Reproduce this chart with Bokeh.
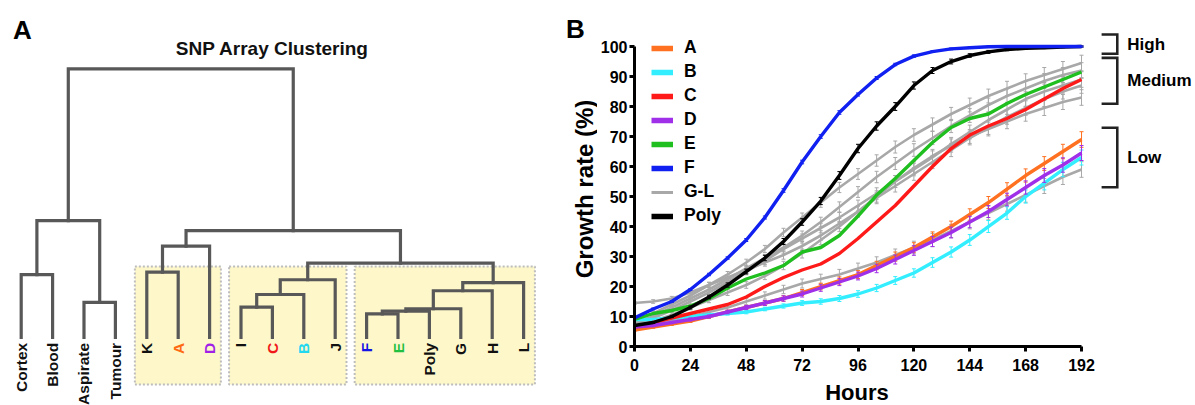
import math
from bokeh.plotting import figure
from bokeh.models import ColumnDataSource, Range1d, FixedTicker, Legend, LegendItem
from bokeh.layouts import row, column
from bokeh.embed import file_html
from bokeh.resources import INLINE
from bokeh.core.properties import value

FONT = "Liberation Sans"

# ---------------- Panel A data (dendrogram) ----------------
leaf_names = ["Cortex", "Blood", "Aspirate", "Tumour", "K", "A", "D", "I", "C", "B",
              "J", "F", "E", "Poly", "G", "H", "L"]
leaf_colors = ["#111111", "#111111", "#111111", "#111111", "#111111", "#FF6A13", "#A020E8",
               "#111111", "#F01818", "#22D8F0", "#111111", "#1414E6", "#22C040", "#111111",
               "#111111", "#111111", "#111111"]
# merges: (left child, right child, height); children are leaf names or "m<index>"
merge_left = ["Cortex", "Aspirate", "m0", "K", "m3", "I", "m5", "m6", "F", "m8", "m9", "m10", "m11", "m7", "m4", "m2"]
merge_right = ["Blood", "Tumour", "m1", "A", "D", "C", "B", "J", "E", "Poly", "G", "H", "L", "m12", "m13", "m14"]
merge_height = [23.4, 13.1, 43.5, 24.3, 34.0, 11.3, 16.0, 21.5, 8.8, 9.8, 10.7, 17.4, 20.4, 27.7, 39.8, 100.0]
box_first = ["K", "I", "F"]
box_last = ["D", "J", "L"]

# ---------------- Panel B data (growth curves) ----------------
hours = [0, 8, 16, 24, 32, 40, 48, 56, 64, 72, 80, 88, 96, 104, 112, 120, 128, 136, 144, 152, 160, 168, 176, 184, 192]
growth_A = [5.5, 6.5, 7.5, 8.5, 10, 11.5, 13, 14.5, 16, 18, 20, 22, 24, 27, 30, 33, 36.5, 40, 44, 48, 52.5, 57, 61, 65, 69]
growth_B = [9, 9, 9.5, 10, 10.5, 11, 11.5, 12.5, 13.5, 14.5, 15, 16, 17.5, 19.5, 22, 24.5, 28, 31.5, 35.5, 40, 44.5, 50, 54.5, 59, 63]
growth_C = [6.5, 8, 9.5, 11, 12.5, 14, 16.5, 20, 23, 25.5, 27.5, 31, 36, 41.5, 47, 53.5, 60, 66, 70.5, 73.5, 76, 79, 82.5, 86, 89]
growth_D = [6.5, 7, 8, 9, 10, 11.5, 13, 14.5, 16, 17.5, 19.5, 21.5, 23.5, 26, 29, 32, 35, 38, 41.5, 45, 49, 53, 57, 60.5, 64.5]
growth_E = [9, 11, 12, 13.5, 16, 19.5, 22.5, 24.5, 27, 31.5, 33, 37, 43.5, 50.5, 56, 62, 68, 73, 76, 77.5, 81, 84, 86.5, 89, 91.5]
growth_F = [9.5, 12.5, 15, 19, 24, 29.5, 35.5, 43, 52, 61.5, 70, 78, 84, 89.5, 94, 96.8, 98.3, 99.2, 99.6, 99.9, 100, 100, 100, 100, 100]
growth_Poly = [7, 8, 10, 13, 16.5, 20.5, 25, 29.5, 35, 41.5, 48.5, 57, 66, 73.5, 80, 87, 92, 95, 97, 98.2, 99, 99.4, 99.6, 99.8, 100]
gray_1 = [9, 11, 14, 17, 20.5, 24, 28, 32.5, 38, 43, 48, 53, 57.5, 62, 66.5, 70.5, 74, 77.5, 80.5, 83.5, 86, 88.5, 90.5, 92.5, 94.5]
gray_2 = [8, 10, 13, 16, 19, 22.5, 26, 29.5, 33, 37, 41.5, 46.5, 51.5, 56.5, 61, 65.5, 69.5, 73.5, 77, 80.5, 83.5, 86, 88.5, 90.5, 92]
gray_3 = [14.5, 15, 16, 18, 20.5, 23, 25.5, 28, 30.5, 33.5, 37, 41, 45, 49.5, 53.5, 57.5, 61.5, 65.5, 69.5, 73, 76.5, 79.5, 82.5, 85, 87]
gray_4 = [7, 8.5, 10.5, 13, 15.5, 18, 20.5, 23.5, 27, 31, 35.5, 40, 45, 50, 55, 59.5, 63.5, 67, 70, 72.5, 75, 77.5, 79.5, 81.5, 83]
gray_5 = [7.5, 9.5, 12, 15, 18, 21.5, 25, 28.5, 32.5, 36, 39.5, 43, 47, 51, 55, 59, 63, 67.5, 71.5, 75.5, 79, 82.5, 85, 87, 89]
gray_6 = [7, 7.5, 8.5, 10, 11.5, 13, 15, 17, 19, 21, 22.5, 24, 26, 28, 30.5, 33, 35.5, 38.5, 41.5, 44.5, 47.5, 50.5, 53.5, 56.5, 59]
err_A = [0.4, 0.4, 0.5, 0.5, 0.6, 0.6, 0.7, 0.8, 0.9, 1.0, 1.1, 1.2, 1.3, 1.4, 1.5, 1.6, 1.7, 1.8, 1.9, 2.0, 2.1, 2.2, 2.3, 2.4, 2.6]
err_B = [0.3, 0.3, 0.4, 0.4, 0.5, 0.5, 0.6, 0.6, 0.7, 0.8, 0.9, 1.0, 1.1, 1.2, 1.3, 1.4, 1.6, 1.7, 1.8, 2.0, 2.1, 2.2, 2.3, 2.4, 2.5]
err_D = [0.3, 0.4, 0.4, 0.5, 0.5, 0.6, 0.7, 0.8, 0.9, 1.0, 1.1, 1.2, 1.3, 1.4, 1.5, 1.6, 1.7, 1.8, 1.9, 2.0, 2.1, 2.2, 2.3, 2.4, 2.5]
err_F = [0.2, 0.3, 0.3, 0.3, 0.4, 0.4, 0.5, 0.5, 0.6, 0.6, 0.6, 0.6, 0.5, 0.5, 0.4, 0.4, 0.3, 0.3, 0.2, 0.2, 0.2, 0.2, 0.2, 0.2, 0.2]
err_Poly = [0.3, 0.3, 0.4, 0.5, 0.6, 0.7, 0.8, 0.9, 1.0, 1.1, 1.2, 1.3, 1.4, 1.4, 1.3, 1.2, 1.0, 0.8, 0.6, 0.5, 0.4, 0.3, 0.3, 0.2, 0.2]
err_gray = [0.5, 0.6, 0.7, 0.8, 0.9, 1.0, 1.1, 1.2, 1.4, 1.5, 1.6, 1.7, 1.8, 1.9, 2.0, 2.1, 2.2, 2.2, 2.3, 2.3, 2.4, 2.4, 2.5, 2.5, 2.6]
legend_labels = ["A", "B", "C", "D", "E", "F", "G-L", "Poly"]
legend_colors = ["#FF7020", "#33EEFF", "#FF1A1A", "#9F2FE8", "#20BF20", "#1020F0", "#A8A8A8", "#000000"]
hour_ticks = [0, 24, 48, 72, 96, 120, 144, 168, 192]
pct_ticks = [0, 10, 20, 30, 40, 50, 60, 70, 80, 90, 100]
group_labels = ["High", "Medium", "Low"]
group_top = [104.0, 96.2, 72.9]
group_bottom = [97.6, 80.9, 53.1]

H = 405

def bare(width, height, xr, yr):
    f = figure(width=width, height=height, x_range=xr, y_range=yr, output_backend="svg",
               toolbar_location=None, min_border=0, x_axis_location=None, y_axis_location=None)
    f.grid.visible = False
    f.outline_line_color = None
    f.frame_align = False
    return f

# ================= Panel A figure =================
pa = bare(560, H, Range1d(-0.659, 17.175), Range1d(-25.31, 125.42))

pos = {n: float(i) for i, n in enumerate(leaf_names)}
hgt = {n: 0.0 for n in leaf_names}
xs, ys = [], []
for k, (l, r, h) in enumerate(zip(merge_left, merge_right, merge_height)):
    xl, xr = pos[l], pos[r]
    xs.append([xl, xl, xr, xr])
    ys.append([hgt[l], h, h, hgt[r]])
    pos["m%d" % k] = (xl + xr) / 2.0
    hgt["m%d" % k] = h

idx = {n: i for i, n in enumerate(leaf_names)}
pa.quad(left=[idx[a] - 0.38 for a in box_first], right=[idx[b] + 0.36 for b in box_last],
        top=26.4, bottom=-17.5, fill_color="#FDF7CA", line_color="#BDBDBD",
        line_width=2, line_dash="2 2")
pa.multi_line(xs=xs, ys=ys, line_color="#585858", line_width=3.2, line_join="miter", line_cap="square")

pa.text(x=list(range(len(leaf_names))), y=-2.0, text=leaf_names, text_color=leaf_colors,
        angle=math.pi / 2, text_align="right", text_baseline="middle",
        text_font=value(FONT), text_font_size="15.5px", text_font_style="bold")
pa.text(x=[(len(leaf_names) - 1) / 2.0], y=[107.5], text=["SNP Array Clustering"],
        text_align="center", text_baseline="middle", text_color="#111111",
        text_font=value(FONT), text_font_size="19px", text_font_style="bold")
pa.text(x=[0.04], y=[114.4], text=["A"], text_align="center", text_baseline="middle",
        text_color="#000000", text_font=value(FONT), text_font_size="26px", text_font_style="bold")

# ================= Panel B: label strip (panel letter + y title) =================
side_y = Range1d(-19.67, 115.33)
pl = bare(37, H, Range1d(-30.79, -14.97), side_y)
pl.text(x=[-24.4], y=[105.8], text=["B"], text_align="center", text_baseline="middle",
        text_color="black", text_font=value(FONT), text_font_size="26px", text_font_style="bold")
pl.text(x=[-20.4], y=[52.5], text=["Growth rate (%)"], angle=math.pi / 2,
        text_align="center", text_baseline="middle", text_color="black",
        text_font=value(FONT), text_font_size="24px", text_font_style="bold")

# ================= Panel B: main plot =================
PB_H = 378
pb = figure(width=503, height=PB_H, x_range=Range1d(0, 193.71), y_range=Range1d(0, 108.67),
            output_backend="svg", toolbar_location=None,
            min_border_left=35, min_border_right=15, min_border_top=20, min_border_bottom=32)
pb.grid.visible = False
pb.outline_line_color = None
pb.frame_align = False

for ax, ticks, bnds, standoff in ((pb.xaxis, hour_ticks, (0, 192), 7), (pb.yaxis, pct_ticks, (0, 100), 2)):
    ax.ticker = FixedTicker(ticks=ticks)
    ax.bounds = bnds
    ax.axis_line_width = 3
    ax.axis_line_color = "black"
    ax.major_tick_line_width = 3
    ax.major_tick_out = 5
    ax.major_tick_in = 0
    ax.minor_tick_out = 0
    ax.minor_tick_in = 0
    ax.major_label_text_font = FONT
    ax.major_label_text_font_size = "16px"
    ax.major_label_text_font_style = "bold"
    ax.major_label_text_color = "black"
    ax.major_label_standoff = standoff

def draw_series(vals, err, color, width):
    src = ColumnDataSource(dict(t=hours, v=vals))
    if err is not None:
        lo = [v - e for v, e in zip(vals, err)]
        hi = [v + e for v, e in zip(vals, err)]
        esrc = ColumnDataSource(dict(t=hours, lo=lo, hi=hi))
        pb.segment(x0="t", y0="lo", x1="t", y1="hi", source=esrc, line_color=color, line_width=1)
        pb.scatter(x="t", y="hi", source=esrc, marker="dash", size=4, line_color=color, line_width=1)
        pb.scatter(x="t", y="lo", source=esrc, marker="dash", size=4, line_color=color, line_width=1)
    pb.line(x="t", y="v", source=src, line_color=color, line_width=width)

gray = legend_colors[6]
for g in (gray_1, gray_2, gray_3, gray_4, gray_5, gray_6):
    draw_series(g, err_gray, gray, 2.6)
draw_series(growth_A, err_A, legend_colors[0], 3.4)
draw_series(growth_B, err_B, legend_colors[1], 3.4)
draw_series(growth_C, None, legend_colors[2], 3.4)
draw_series(growth_D, err_D, legend_colors[3], 3.4)
draw_series(growth_E, None, legend_colors[4], 3.4)
draw_series(growth_Poly, err_Poly, legend_colors[7], 3.4)
draw_series(growth_F, err_F, legend_colors[5], 3.4)

items = []
nan = float("nan")
for lab, col in zip(legend_labels, legend_colors):
    r = pb.line(x=[nan, nan], y=[nan, nan], line_color=col, line_width=3 if lab == "G-L" else 5.5)
    items.append(LegendItem(label=lab, renderers=[r]))
legend = Legend(items=items, location="top_left", margin=17, padding=0, spacing=3,
                glyph_width=22, glyph_height=20, label_height=20, label_standoff=11,
                label_text_font=FONT, label_text_font_size="17.5px", label_text_font_style="bold",
                label_text_color="black", border_line_color=None, background_fill_alpha=0)
pb.add_layout(legend)

# strip below the plot for the x-axis title (same hour scale as the plot)
ph = bare(503, H - PB_H, Range1d(-14.97, 200.13), Range1d(-19.67, -10.67))
ph.text(x=[(hour_ticks[0] + hour_ticks[-1]) / 2.0], y=[-15.5], text=["Hours"],
        text_align="center", text_baseline="middle", text_color="black",
        text_font=value(FONT), text_font_size="22px", text_font_style="bold")

# ================= Panel B: group brackets strip =================
pr = bare(95, H, Range1d(200.13, 240.75), side_y)
bx0, bx1 = 200.6, 207.3
pr.multi_line(xs=[[bx0, bx1, bx1, bx0] for _ in group_labels],
              ys=[[t, t, b, b] for t, b in zip(group_top, group_bottom)],
              line_color="#222222", line_width=2.6, line_join="miter")
pr.text(x=[211.6] * 3, y=[(t + b) / 2 for t, b in zip(group_top, group_bottom)], text=group_labels,
        text_align="left", text_baseline="middle", text_color="black",
        text_font=value(FONT), text_font_size="17px", text_font_style="bold")

layout = row(pa, pl, column(pb, ph), pr)
open("out.html", "w").write(file_html(layout, INLINE))
